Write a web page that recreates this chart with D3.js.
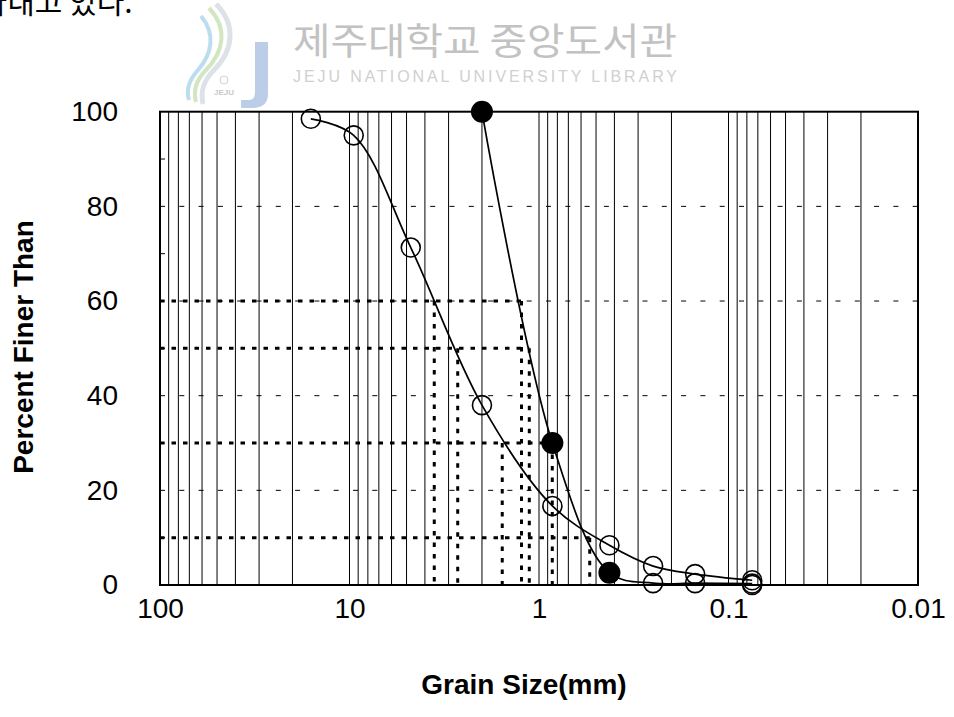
<!DOCTYPE html>
<html>
<head>
<meta charset="utf-8">
<script src="https://cdn.jsdelivr.net/npm/d3@7"></script>
<style>
  html, body { margin: 0; padding: 0; background: #fff; }
  svg { display: block; }
</style>
</head>
<body>
<svg id="chart" width="954" height="717"></svg>
<script>
// Grain-size distribution: sieve opening (mm) vs. percent passing
const sampleASizes   = [16, 9.5, 4.75, 2.0, 0.85, 0.425, 0.25, 0.15, 0.075];
const sampleAPercent = [98.5, 95.0, 71.3, 38.0, 16.7, 8.4, 4.0, 2.3, 1.0];

const sampleBSizes   = [2.0, 0.85, 0.425, 0.25, 0.15, 0.075];
const sampleBPercent = [100, 30, 2.6, 0.4, 0.4, 0.3];
const sampleBFilled  = [true, true, true, false, false, false];

const extraSizes   = [0.075];
const extraPercent = [0];

// Characteristic diameters (D60, D50, D30, D10)
const dPercent = [60, 50, 30, 60, 50, 30, 10];
const dSize    = [3.57, 2.685, 1.563, 1.237, 1.125, 0.851, 0.540];

const xTickValues = [100, 10, 1, 0.1, 0.01];
const xTickLabels = ["100", "10", "1", "0.1", "0.01"];
const yTickValues = [0, 20, 40, 60, 80, 100];
const yMinorTicks = [10, 30, 50, 70, 90];
const yGridValues = [20, 40, 60, 80];

const svg = d3.select("#chart");
const W = 954, H = 717;
const plot = { left: 160, right: 918, top: 111.7, bottom: 585 };

svg.append("rect").attr("width", W).attr("height", H).attr("fill", "#fff");

// Running text from the page above the figure
svg.append("text")
  .attr("x", -48).attr("y", 13)
  .attr("font-family", "'Noto Sans CJK KR', sans-serif")
  .attr("font-size", 30)
  .attr("fill", "#000")
  .text("나타내고 있다.");

// Library watermark
const wm = svg.append("g").attr("class", "watermark");
wm.append("path")
  .attr("d", "M 216 4 C 236 24, 234 50, 214 70 C 204 80, 200 90, 203 104")
  .attr("fill", "none").attr("stroke", "#dde1e8").attr("stroke-width", 5);
wm.append("path")
  .attr("d", "M 209 8 C 228 28, 224 52, 206 70 C 196 80, 193 90, 196 102")
  .attr("fill", "none").attr("stroke", "#d2e6c2").attr("stroke-width", 4);
wm.append("path")
  .attr("d", "M 201 16 C 216 34, 212 54, 198 70 C 189 80, 186 90, 189 100")
  .attr("fill", "none").attr("stroke", "#bcdcf0").attr("stroke-width", 4);
wm.append("path")
  .attr("d", "M 255 42 H 268 V 94 Q 268 108 252 108 H 241 V 100 H 249 Q 255 100 255 92 Z")
  .attr("fill", "#bccde8");
wm.append("circle").attr("cx", 224).attr("cy", 80).attr("r", 4)
  .attr("fill", "none").attr("stroke", "#cfcfcf").attr("stroke-width", 1);
wm.append("text").attr("x", 224).attr("y", 95)
  .attr("text-anchor", "middle")
  .attr("font-family", "'Liberation Sans', Arial, sans-serif")
  .attr("font-size", 8).attr("font-weight", "bold").attr("fill", "#c9c9c9")
  .text("JEJU");
wm.append("text")
  .attr("x", 293).attr("y", 55)
  .attr("font-family", "'Noto Sans CJK KR', sans-serif")
  .attr("font-size", 37)
  .attr("fill", "#c2c2c2")
  .attr("textLength", 384).attr("lengthAdjust", "spacingAndGlyphs")
  .text("제주대학교 중앙도서관");
wm.append("text")
  .attr("x", 293).attr("y", 82)
  .attr("font-family", "'Liberation Sans', Arial, sans-serif")
  .attr("font-size", 16)
  .attr("fill", "#d0d0d0")
  .attr("textLength", 384).attr("lengthAdjust", "spacing")
  .text("JEJU NATIONAL UNIVERSITY  LIBRARY");

// Scales
const x = d3.scaleLog().domain([100, 0.01]).range([plot.left, plot.right]);
const y = d3.scaleLinear().domain([0, 100]).range([plot.bottom, plot.top]);

// Vertical log grid (every 1..9 x 10^n)
const gridX = x.ticks().filter(v => v < 100 && v > 0.01);
svg.append("g").selectAll("line").data(gridX).join("line")
  .attr("x1", d => x(d)).attr("x2", d => x(d))
  .attr("y1", plot.top).attr("y2", plot.bottom)
  .attr("stroke", "#000").attr("stroke-width", 1);

// Horizontal dashed grid
svg.append("g").selectAll("line").data(yGridValues).join("line")
  .attr("x1", plot.left).attr("x2", plot.right)
  .attr("y1", d => y(d)).attr("y2", d => y(d))
  .attr("stroke", "#000").attr("stroke-width", 1)
  .attr("stroke-dasharray", "5,14.3");

// Dotted construction lines for D-values
const dRows = dPercent.map((p, i) => ({ p, s: dSize[i] }));
const levels = Array.from(new Set(dPercent));
const hRows = levels.map(p => ({ p, s: d3.min(dRows.filter(r => r.p === p), r => r.s) }));
const dGroup = svg.append("g")
  .attr("stroke", "#000").attr("stroke-width", 3)
  .attr("stroke-dasharray", "4.5,7").attr("fill", "none");
dGroup.selectAll("line.h").data(hRows).join("line").attr("class", "h")
  .attr("x1", plot.left).attr("x2", d => x(d.s))
  .attr("y1", d => y(d.p)).attr("y2", d => y(d.p));
dGroup.selectAll("line.v").data(dRows).join("line").attr("class", "v")
  .attr("x1", d => x(d.s)).attr("x2", d => x(d.s))
  .attr("y1", d => y(d.p)).attr("y2", plot.bottom);

// Gradation curves
const line = d3.line()
  .x(d => x(d.s)).y(d => y(d.p))
  .curve(d3.curveCatmullRom.alpha(0.5));
const seriesA = sampleASizes.map((s, i) => ({ s, p: sampleAPercent[i] }));
const seriesB = sampleBSizes.map((s, i) => ({ s, p: sampleBPercent[i], filled: sampleBFilled[i] }));
const extra = extraSizes.map((s, i) => ({ s, p: extraPercent[i] }));

svg.append("path").datum(seriesA).attr("d", line)
  .attr("fill", "none").attr("stroke", "#000").attr("stroke-width", 1.7);
svg.append("path").datum(seriesB).attr("d", line)
  .attr("fill", "none").attr("stroke", "#000").attr("stroke-width", 1.7);

// Markers
const openPts = seriesA.concat(seriesB.filter(d => !d.filled), extra);
svg.append("g").selectAll("circle").data(openPts).join("circle")
  .attr("cx", d => x(d.s)).attr("cy", d => y(d.p)).attr("r", 9.5)
  .attr("fill", "none").attr("stroke", "#000").attr("stroke-width", 1.6);
svg.append("g").selectAll("circle").data(seriesB.filter(d => d.filled)).join("circle")
  .attr("cx", d => x(d.s)).attr("cy", d => y(d.p)).attr("r", 11)
  .attr("fill", "#000");

// Inner minor ticks on the y axis
svg.append("g").selectAll("line").data(yMinorTicks).join("line")
  .attr("x1", plot.left).attr("x2", plot.left + 5)
  .attr("y1", d => y(d)).attr("y2", d => y(d))
  .attr("stroke", "#000").attr("stroke-width", 1);

// Plot frame
svg.append("rect")
  .attr("x", plot.left).attr("y", plot.top)
  .attr("width", plot.right - plot.left).attr("height", plot.bottom - plot.top)
  .attr("fill", "none").attr("stroke", "#000").attr("stroke-width", 2);

// Axes (labels only; frame drawn above)
const font = "'Liberation Sans', Arial, Helvetica, sans-serif";
const xAxis = d3.axisBottom(x).tickValues(xTickValues)
  .tickFormat((d, i) => xTickLabels[i]).tickSize(0).tickPadding(13);
const gx = svg.append("g").attr("transform", `translate(0,${plot.bottom})`).call(xAxis);
gx.select(".domain").remove();
gx.selectAll("text").attr("font-family", font).attr("font-size", 28).attr("fill", "#000");

const yAxis = d3.axisLeft(y).tickValues(yTickValues).tickSize(0).tickPadding(42);
const gy = svg.append("g").attr("transform", `translate(${plot.left},0)`).call(yAxis);
gy.select(".domain").remove();
gy.selectAll("text").attr("font-family", font).attr("font-size", 28).attr("fill", "#000");

// Axis titles
svg.append("text")
  .attr("x", 524).attr("y", 694)
  .attr("text-anchor", "middle")
  .attr("font-family", font).attr("font-size", 28).attr("font-weight", "bold")
  .text("Grain Size(mm)");
svg.append("text")
  .attr("transform", "translate(33,347) rotate(-90)")
  .attr("text-anchor", "middle")
  .attr("font-family", font).attr("font-size", 28).attr("font-weight", "bold")
  .text("Percent Finer Than");
</script>
</body>
</html>
